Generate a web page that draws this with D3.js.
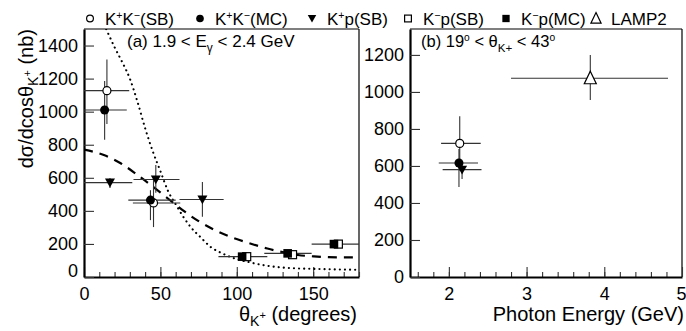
<!DOCTYPE html>
<html><head><meta charset="utf-8">
<script src="https://cdn.jsdelivr.net/npm/d3@7"></script>
<style>
body{margin:0;background:#fff}
text{font-family:"Liberation Sans",Arial,Helvetica,sans-serif;fill:#000}
</style>
</head><body><svg id="c" width="686" height="331"></svg>
<script>
// ---------- DATA ----------
// Panel (a): dσ/dcosθ vs θ_K+ (degrees)
const thetaTicks = [0, 50, 100, 150];
const sigmaTicksA = [0, 200, 400, 600, 800, 1000, 1200, 1400];
// K+K-(SB) open circles
const kkSB_th = [15, 45.5], kkSB_v = [1127, 448];
const kkSB_thLo = [0, 32], kkSB_thHi = [29.6, 63], kkSB_lo = [925, 302], kkSB_hi = [1316, 586];
// K+K-(MC) filled circles
const kkMC_th = [13.5, 43.5], kkMC_v = [1010, 465];
const kkMC_thLo = [0, 29], kkMC_thHi = [28, 60], kkMC_lo = [830, 344], kkMC_hi = [1186, 525];
// K+p(SB) filled down triangles
const kpSB_th = [17, 47, 77.5], kpSB_v = [571, 590, 469];
const kpSB_thLo = [0, 32.4, 62.5], kpSB_thHi = [31.6, 62.5, 91.4], kpSB_lo = [538, 510, 364], kpSB_hi = [599, 677, 575];
// K-p(SB) open squares
const kmSB_th = [106.5, 136.5, 166.5], kmSB_v = [123, 135, 199];
// K-p(MC) filled squares
const kmMC_th = [103.5, 133.3, 163.6], kmMC_v = [123, 143, 199];
const km_thLo = [88, 118, 149], km_thHi = [120, 149, 180];
// model curves
const dottedTh = [14.5, 20, 25, 30, 35, 40, 45, 50, 55, 60, 65, 70, 76, 83, 90, 100, 107, 116, 129, 140, 155, 170, 180];
const dottedV  = [1500, 1390, 1300, 1200, 1060, 900, 760, 640, 520, 440, 364, 300, 243, 181, 145, 108, 92, 74, 58, 52, 48, 45, 44];
const dashedTh = [0, 13, 24, 35, 53, 60, 75, 96, 108, 120, 130, 140, 150, 160, 170, 180];
const dashedV  = [770, 738, 688, 617, 489, 437, 338, 242, 205, 172, 150, 133, 125, 120, 119, 119];

// Panel (b): vs photon energy (GeV)
const energyTicks = [2, 3, 4, 5];
const sigmaTicksB = [0, 200, 400, 600, 800, 1000, 1200];
const bKKSB = {E: 2.14, v: 722, ELo: 1.90, EHi: 2.41, lo: 576, hi: 868};
const bKKMC = {E: 2.13, v: 616, ELo: 1.87, EHi: 2.375, lo: 486, hi: 692};
const bKPSB = {E: 2.17, v: 580, ELo: 1.92, EHi: 2.42, lo: 530, hi: 620};
const bLAMP = {E: 3.82, v: 1074, ELo: 2.80, EHi: 4.82, lo: 957, hi: 1200};

const legendItems = [
  {m: "circleOpen",   parts: [["K"],["+","sup"],["K"],["\u2212","sup"],["(SB)"]]},
  {m: "circleFilled", parts: [["K"],["+","sup"],["K"],["\u2212","sup"],["(MC)"]]},
  {m: "triDown",      parts: [["K"],["+","sup"],["p(SB)"]]},
  {m: "squareOpen",   parts: [["K"],["\u2212","sup"],["p(SB)"]]},
  {m: "squareFilled", parts: [["K"],["\u2212","sup"],["p(MC)"]]},
  {m: "triUpOpen",    parts: [["LAMP2"]]}
];
const legendX = [90, 200, 312, 408, 506, 596];

// ---------- LAYOUT ----------
const svg = d3.select("#c");
const A = {x0: 84, x1: 359, y0: 29, y1: 277};
const B = {x0: 410, x1: 682, y0: 29, y1: 277};
const xA = d3.scaleLinear().domain([0, 180]).range([A.x0, A.x1]);
const yA = d3.scaleLinear().domain([0, 1500]).range([A.y1, A.y0]);
const xB = d3.scaleLinear().domain([1.5, 5]).range([B.x0, B.x1]);
const yB = d3.scaleLinear().domain([0, 1340]).range([B.y1, B.y0]);
const INK = "#000", BAR = "#333";
const FONT = '"Liberation Sans",Arial,sans-serif';

function marker(g, type, x, y, s) {
  s = s || 1;
  if (type === "circleOpen") g.append("circle").attr("cx", x).attr("cy", y).attr("r", 4*s).attr("fill", "#fff").attr("stroke", INK).attr("stroke-width", 1.2);
  else if (type === "circleFilled") g.append("circle").attr("cx", x).attr("cy", y).attr("r", 4.5*s).attr("fill", INK);
  else if (type === "triDown") g.append("path").attr("d", `M${x-5*s},${y-4*s}L${x+5*s},${y-4*s}L${x},${y+4.8*s}Z`).attr("fill", INK);
  else if (type === "squareOpen") g.append("rect").attr("x", x-4*s).attr("y", y-4*s).attr("width", 8*s).attr("height", 8*s).attr("fill", "#fff").attr("stroke", INK).attr("stroke-width", 1.2);
  else if (type === "squareFilled") g.append("rect").attr("x", x-4.3*s).attr("y", y-4.3*s).attr("width", 8.6*s).attr("height", 8.6*s).attr("fill", INK);
  else if (type === "triUpOpen") g.append("path").attr("d", `M${x},${y-7*s}L${x+6*s},${y+5.5*s}L${x-6*s},${y+5.5*s}Z`).attr("fill", "#fff").attr("stroke", INK).attr("stroke-width", 1.2);
}
function errBar(g, xs, ys, x, y, xl, xh, yl, yh) {
  g.append("line").attr("x1", xs(xl)).attr("x2", xs(xh)).attr("y1", ys(y)).attr("y2", ys(y)).attr("stroke", BAR).attr("stroke-width", 1.1);
  g.append("line").attr("x1", xs(x)).attr("x2", xs(x)).attr("y1", ys(yl)).attr("y2", ys(yh)).attr("stroke", BAR).attr("stroke-width", 1.1);
}
function richText(sel, parts, baseSize) {
  parts.forEach(p => {
    const t = sel.append("tspan").text(p[0]);
    if (p[1] === "sup") t.attr("font-size", baseSize*0.62).attr("baseline-shift", baseSize*0.38);
    else if (p[1] === "sub") t.attr("font-size", baseSize*0.7).attr("baseline-shift", -baseSize*0.28);
  });
}

// ---------- AXES ----------
function drawAxes(P, xs, ys, xMajor, xMinor, yMajor) {
  const g = svg.append("g");
  g.append("line").attr("x1", P.x0).attr("x2", P.x1).attr("y1", P.y0).attr("y2", P.y0).attr("stroke", INK).attr("stroke-width", 1.2);
  g.append("line").attr("x1", P.x1).attr("x2", P.x1).attr("y1", P.y0).attr("y2", P.y1).attr("stroke", INK).attr("stroke-width", 1.2);
  const gm = g.append("g").attr("transform", `translate(0,${P.y1})`)
    .call(d3.axisBottom(xs).tickValues(xMinor).tickSize(-5).tickSizeOuter(0).tickFormat(""));
  gm.select(".domain").remove();
  gm.selectAll("line").attr("stroke", "#333").attr("stroke-width", 1.1);
  const gx = g.append("g").attr("transform", `translate(0,${P.y1})`)
    .call(d3.axisBottom(xs).tickValues(xMajor).tickSize(-10).tickSizeOuter(0).tickPadding(10).tickFormat(d3.format("d")));
  gx.select(".domain").attr("stroke", INK).attr("stroke-width", 2.2);
  gx.selectAll("line").attr("stroke", "#333").attr("stroke-width", 1.1);
  gx.selectAll("text").attr("font-size", 18).attr("font-family", FONT).attr("fill", INK);
  const gy = g.append("g").attr("transform", `translate(${P.x0},0)`)
    .call(d3.axisLeft(ys).tickValues(yMajor).tickSize(-10).tickSizeOuter(0).tickPadding(6).tickFormat(d3.format("d")));
  gy.select(".domain").attr("stroke", INK).attr("stroke-width", 2.2);
  gy.selectAll("line").attr("stroke", "#333").attr("stroke-width", 1.1);
  gy.selectAll("text").attr("font-size", 18).attr("font-family", FONT).attr("fill", INK);
  return {gx, gy};
}
const axA = drawAxes(A, xA, yA, thetaTicks, d3.range(0, 181, 10), sigmaTicksA);
axA.gy.selectAll(".tick").filter(d => d === 0).select("text").attr("dy", "-0.05em");
const axB = drawAxes(B, xB, yB, energyTicks, d3.range(1.6, 4.9, 0.2).map(v => +v.toFixed(1)), sigmaTicksB);
axB.gx.selectAll(".tick").filter(d => d === 5).select("text").attr("text-anchor", "end").attr("x", 4);

// ---------- CURVES ----------
svg.append("clipPath").attr("id", "clipA").append("rect").attr("x", A.x0).attr("y", A.y0).attr("width", A.x1-A.x0).attr("height", A.y1-A.y0);
const gc = svg.append("g").attr("clip-path", "url(#clipA)");
const lineA = d3.line().x(d => xA(d[0])).y(d => yA(d[1])).curve(d3.curveMonotoneX);
gc.append("path").attr("d", lineA(dottedTh.map((t, i) => [t, dottedV[i]])))
  .attr("fill", "none").attr("stroke", INK).attr("stroke-width", 2.1).attr("stroke-linecap", "round").attr("stroke-dasharray", "0.1,5");
gc.append("path").attr("d", lineA(dashedTh.map((t, i) => [t, dashedV[i]])))
  .attr("fill", "none").attr("stroke", INK).attr("stroke-width", 2.2).attr("stroke-dasharray", "9,7");

// ---------- POINTS PANEL A ----------
const gp = svg.append("g");
kmMC_th.forEach((t, i) => errBar(gp, xA, yA, t, kmMC_v[i], km_thLo[i], km_thHi[i], kmMC_v[i]-8, kmMC_v[i]+8));
kpSB_th.forEach((t, i) => errBar(gp, xA, yA, t, kpSB_v[i], kpSB_thLo[i], kpSB_thHi[i], kpSB_lo[i], kpSB_hi[i]));
kkSB_th.forEach((t, i) => errBar(gp, xA, yA, t, kkSB_v[i], kkSB_thLo[i], kkSB_thHi[i], kkSB_lo[i], kkSB_hi[i]));
kkMC_th.forEach((t, i) => errBar(gp, xA, yA, t, kkMC_v[i], kkMC_thLo[i], kkMC_thHi[i], kkMC_lo[i], kkMC_hi[i]));
kmSB_th.forEach((t, i) => marker(gp, "squareOpen", xA(t), yA(kmSB_v[i])));
kmMC_th.forEach((t, i) => marker(gp, "squareFilled", xA(t), yA(kmMC_v[i])));
kpSB_th.forEach((t, i) => marker(gp, "triDown", xA(t), yA(kpSB_v[i])));
kkSB_th.forEach((t, i) => marker(gp, "circleOpen", xA(t), yA(kkSB_v[i])));
kkMC_th.forEach((t, i) => marker(gp, "circleFilled", xA(t), yA(kkMC_v[i])));

// ---------- POINTS PANEL B ----------
const gb = svg.append("g");
[bKKSB, bKKMC, bKPSB, bLAMP].forEach(d => errBar(gb, xB, yB, d.E, d.v, d.ELo, d.EHi, d.lo, d.hi));
marker(gb, "circleOpen", xB(bKKSB.E), yB(bKKSB.v));
marker(gb, "triDown", xB(bKPSB.E), yB(bKPSB.v));
marker(gb, "circleFilled", xB(bKKMC.E), yB(bKKMC.v));
marker(gb, "triUpOpen", xB(bLAMP.E), yB(bLAMP.v));

// ---------- LEGEND ----------
const gl = svg.append("g");
legendItems.forEach((it, i) => {
  marker(gl, it.m, legendX[i], 18.5, 0.85);
  const t = gl.append("text").attr("x", legendX[i] + 15).attr("y", 24.5).attr("font-size", 17);
  richText(t, it.parts, 17);
});

// ---------- LABELS ----------
const la = svg.append("text").attr("x", 127).attr("y", 47).attr("font-size", 17);
richText(la, [["(a) 1.9 < E"],["\u03b3","sub"],[" < 2.4 GeV"]], 17);
const lb = svg.append("text").attr("x", 421).attr("y", 47).attr("font-size", 16.5);
richText(lb, [["(b) 19"],["o","sup"],[" < \u03b8"],["K+","sub"],[" < 43"],["o","sup"]], 16.5);

const xt = svg.append("text").attr("x", 357).attr("y", 321).attr("text-anchor", "end").attr("font-size", 20);
xt.append("tspan").text("\u03b8");
xt.append("tspan").text("K").attr("font-size", 14).attr("baseline-shift", -5);
xt.append("tspan").text("+").attr("font-size", 11).attr("baseline-shift", 2);
xt.append("tspan").text(" (degrees)");

svg.append("text").attr("x", 684).attr("y", 321).attr("text-anchor", "end").attr("font-size", 20).text("Photon Energy (GeV)");

const yt = svg.append("text").attr("transform", "translate(33,29) rotate(-90)").attr("text-anchor", "end").attr("font-size", 20);
yt.append("tspan").text("d\u03c3/dcos\u03b8");
yt.append("tspan").text("K").attr("font-size", 14).attr("baseline-shift", -5);
yt.append("tspan").text("+").attr("font-size", 11).attr("baseline-shift", 2);
yt.append("tspan").text(" (nb)");
</script></body></html>
